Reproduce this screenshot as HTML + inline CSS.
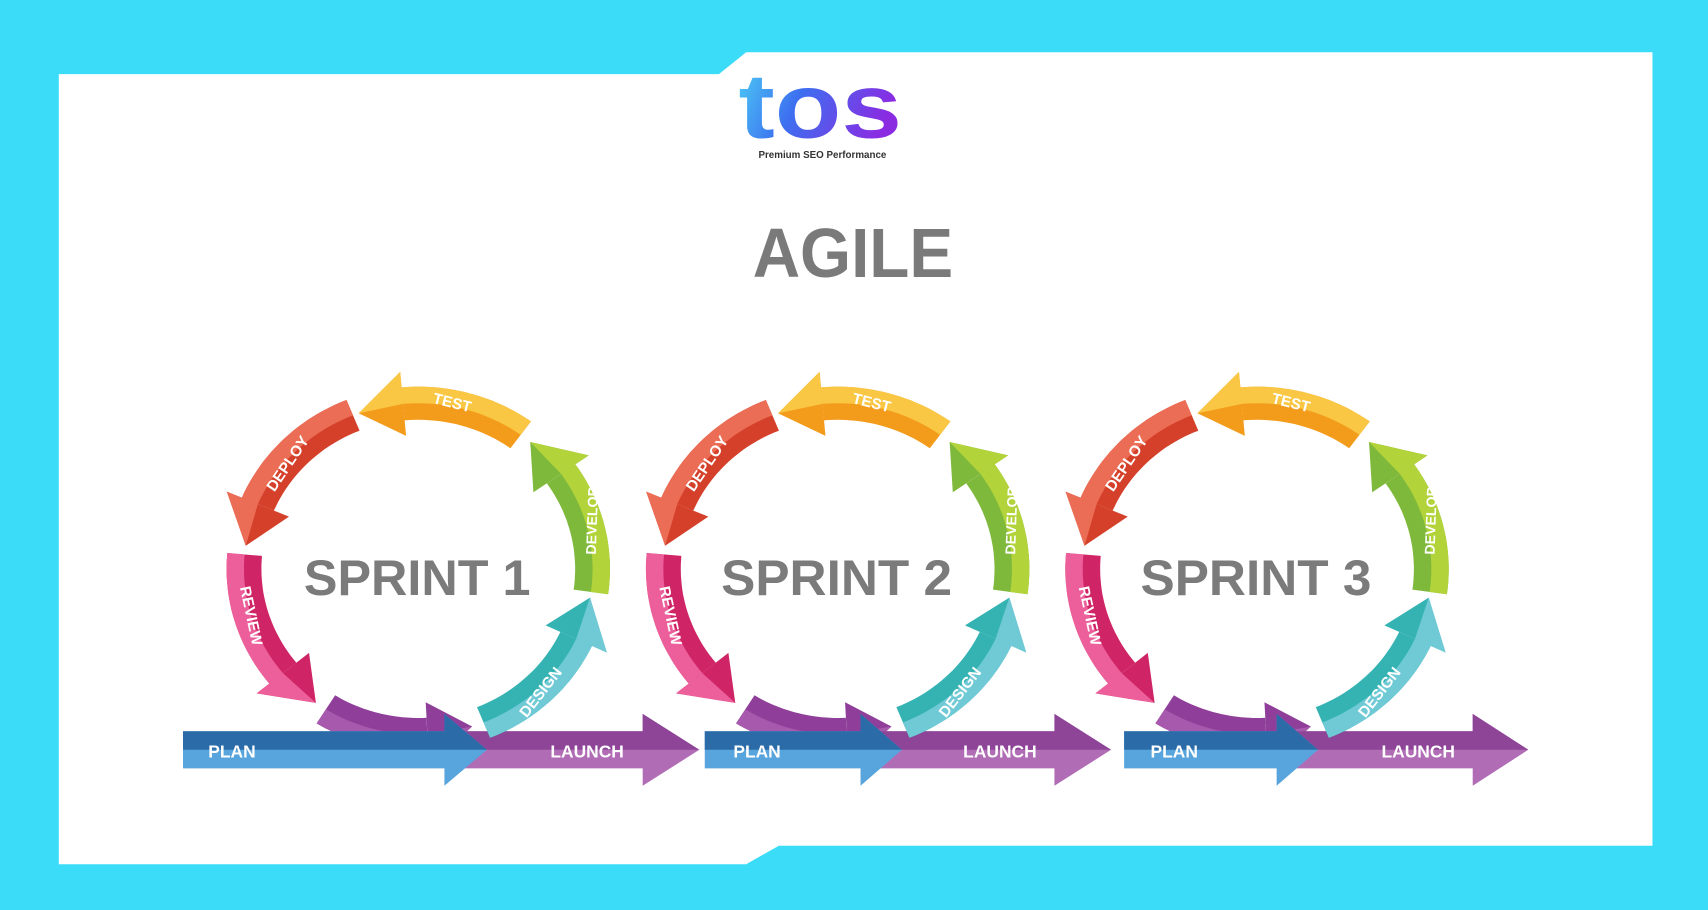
<!DOCTYPE html>
<html><head><meta charset="utf-8">
<style>
html,body{margin:0;padding:0;width:1708px;height:910px;overflow:hidden;background:#3adcf8}
svg{display:block}
.l{font-family:"Liberation Sans",sans-serif;font-weight:bold;fill:#fff}
.sp{font-family:"Liberation Sans",sans-serif;font-weight:bold;fill:#7b7b7b}
</style></head>
<body>
<svg id="s" width="1708" height="910" viewBox="0 0 1568 835" preserveAspectRatio="none" xmlns="http://www.w3.org/2000/svg">
<defs>
<linearGradient id="lg" x1="0" y1="0" x2="1" y2="0.3">
<stop offset="0" stop-color="#4cd3f5"/><stop offset="0.45" stop-color="#3d6ff0"/><stop offset="1" stop-color="#8a2be2"/>
</linearGradient>
</defs>
<rect width="1568" height="835" fill="#3adcf8"/>
<polygon points="54,68 660,68 685,48 1517,48 1517,776 715,776 685,793 54,793" fill="#fff"/>
<text x="753" y="126" text-anchor="middle" font-family="Liberation Sans,sans-serif" font-weight="bold" font-size="84" fill="url(#lg)" textLength="150" lengthAdjust="spacingAndGlyphs">tos</text>
<text x="755" y="145" text-anchor="middle" font-family="Liberation Sans,sans-serif" font-weight="bold" font-size="9" fill="#333">Premium SEO Performance</text>
<text x="783" y="254" text-anchor="middle" font-family="Liberation Sans,sans-serif" font-weight="bold" font-size="64" fill="#7a7a7a" textLength="184" lengthAdjust="spacingAndGlyphs">AGILE</text>
<g id="arcs"></g>
<g>
<text class="sp" x="383" y="546" text-anchor="middle" font-size="46" textLength="208" lengthAdjust="spacingAndGlyphs">SPRINT 1</text>
<text class="sp" x="768" y="546" text-anchor="middle" font-size="46" textLength="212" lengthAdjust="spacingAndGlyphs">SPRINT 2</text>
<text class="sp" x="1153" y="546" text-anchor="middle" font-size="46" textLength="212" lengthAdjust="spacingAndGlyphs">SPRINT 3</text>
</g>
<g>
<text class="l" font-size="14" text-anchor="middle" transform="translate(414,374) rotate(14)">TEST</text>
<text class="l" font-size="14" text-anchor="middle" transform="translate(268,428) rotate(-56)">DEPLOY</text>
<text class="l" font-size="13" text-anchor="middle" transform="translate(548,478) rotate(-88)">DEVELOP</text>
<text class="l" font-size="14" text-anchor="middle" transform="translate(226,566) rotate(78)">REVIEW</text>
<text class="l" font-size="14" text-anchor="middle" transform="translate(500,638) rotate(-52)">DESIGN</text>
<text class="l" font-size="16" x="213" y="695" text-anchor="middle">PLAN</text>
<text class="l" font-size="16" x="539" y="695" text-anchor="middle">LAUNCH</text>
</g>
<g transform="translate(385,0)">
<text class="l" font-size="14" text-anchor="middle" transform="translate(414,374) rotate(14)">TEST</text>
<text class="l" font-size="14" text-anchor="middle" transform="translate(268,428) rotate(-56)">DEPLOY</text>
<text class="l" font-size="13" text-anchor="middle" transform="translate(548,478) rotate(-88)">DEVELOP</text>
<text class="l" font-size="14" text-anchor="middle" transform="translate(226,566) rotate(78)">REVIEW</text>
<text class="l" font-size="14" text-anchor="middle" transform="translate(500,638) rotate(-52)">DESIGN</text>
</g>
<g transform="translate(770,0)">
<text class="l" font-size="14" text-anchor="middle" transform="translate(414,374) rotate(14)">TEST</text>
<text class="l" font-size="14" text-anchor="middle" transform="translate(268,428) rotate(-56)">DEPLOY</text>
<text class="l" font-size="13" text-anchor="middle" transform="translate(548,478) rotate(-88)">DEVELOP</text>
<text class="l" font-size="14" text-anchor="middle" transform="translate(226,566) rotate(78)">REVIEW</text>
<text class="l" font-size="14" text-anchor="middle" transform="translate(500,638) rotate(-52)">DESIGN</text>
</g>
<text class="l" font-size="16" x="695" y="695" text-anchor="middle">PLAN</text>
<text class="l" font-size="16" x="918" y="695" text-anchor="middle">LAUNCH</text>
<text class="l" font-size="16" x="1078" y="695" text-anchor="middle">PLAN</text>
<text class="l" font-size="16" x="1302" y="695" text-anchor="middle">LAUNCH</text>
</svg>
<script>
(function(){
var NS="http://www.w3.org/2000/svg",g=document.getElementById('arcs');
function el(t,a){var e=document.createElementNS(NS,t);for(var k in a)e.setAttribute(k,a[k]);g.appendChild(e);return e;}
var ky=0.95,R=160,W=16,HW=31,HL=15;
function P(cx,cy,a,r){a=a*Math.PI/180;return [(cx+r*Math.cos(a)).toFixed(1),(cy+r*ky*Math.sin(a)).toFixed(1)];}
function band(cx,cy,a1,b,r1,r2){var s="",n=24,i,p;
 for(i=0;i<=n;i++){p=P(cx,cy,a1+(b-a1)*i/n,r2);s+=(i?"L":"M")+p[0]+","+p[1];}
 for(i=n;i>=0;i--){p=P(cx,cy,a1+(b-a1)*i/n,r1);s+="L"+p[0]+","+p[1];}
 return s+"Z";}
function arrow(cx,cy,a1,t,cIn,cOut){
 var dir=t<a1?1:-1,b=t+dir*HL;
 var o=P(cx,cy,b,R+HW),i=P(cx,cy,b,R-HW),tp=P(cx,cy,t,R),m=P(cx,cy,b,R);
 el('path',{d:band(cx,cy,a1,b,R-W,R+W),fill:cIn});
 el('path',{d:"M"+o+"L"+tp+"L"+i+"Z",fill:cIn});
 el('path',{d:band(cx,cy,a1,b,R,R+W),fill:cOut});
 el('path',{d:"M"+o+"L"+tp+"L"+m+"Z",fill:cOut});
}
function hArrow(x1,x2,tip,y,cTop,cBot){
 el('path',{d:"M"+x1+","+(y-17)+"L"+x2+","+(y-17)+"L"+x2+","+(y-33)+"L"+tip+","+y+"L"+x2+","+(y+33)+"L"+x2+","+(y+17)+"L"+x1+","+(y+17)+"Z",fill:cBot});
 el('path',{d:"M"+x1+","+(y-17)+"L"+x2+","+(y-17)+"L"+x2+","+(y-33)+"L"+tip+","+y+"L"+x1+","+y+"Z",fill:cTop});
}
var H=[[168,408,447,420,590,642],[647,790,828,800,968,1020],[1032,1172,1210,1185,1352,1403]];
[0,385,770].forEach(function(dx,k){
 var cx=384+dx,cy=522,h=H[k];
 arrow(cx,cy,122,72,"#8f3f99","#a759ad");
 arrow(cx,cy,8,-50,"#7fb93c","#b2d33a");
 arrow(cx,cy,-54,-110,"#f39c1c","#f9c744");
 arrow(cx,cy,-112,-172,"#d4402a","#ec6d55");
 arrow(cx,cy,185,126,"#cf2566","#ec5f9a");
 hArrow(h[3],h[4],h[5],688,"#8e4598","#b06cb5");
 hArrow(h[0],h[1],h[2],688,"#2a6ba8","#58a4dc");
 arrow(cx,cy,68,10,"#35b3b3","#6fcad6");
});
})();
</script>
</body></html>
